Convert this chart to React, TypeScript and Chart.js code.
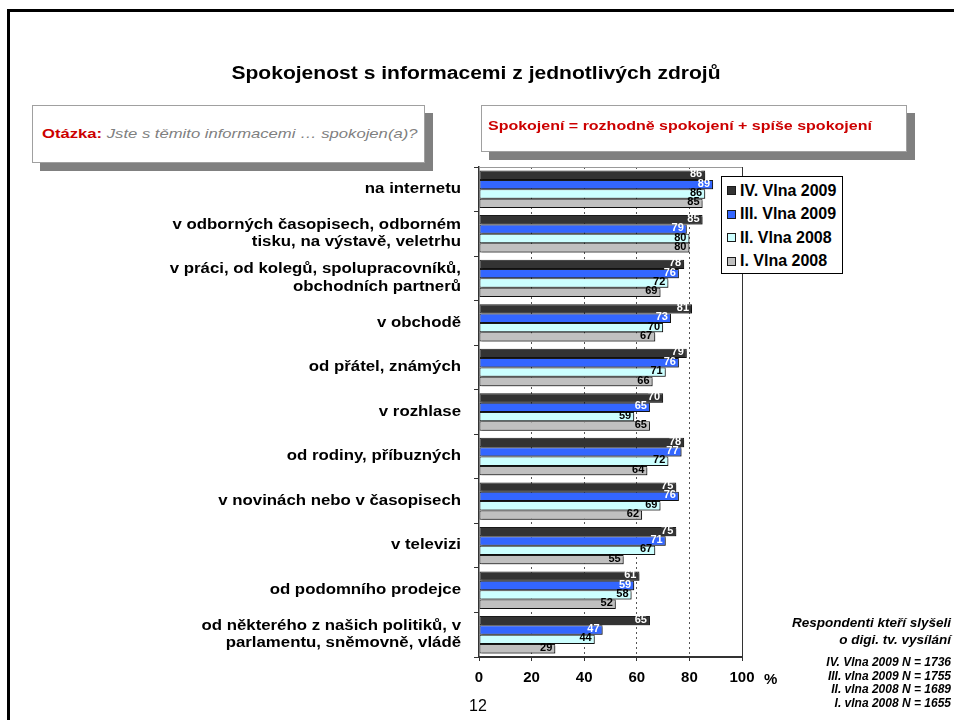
import React, { useEffect, useRef } from "react";
import { Chart, registerables } from "chart.js";
Chart.register(...registerables);

const categories: (string | string[])[] = [
  "na internetu",
  ["v odborných časopisech, odborném", "tisku, na výstavě, veletrhu"],
  ["v práci, od kolegů, spolupracovníků,", "obchodních partnerů"],
  "v obchodě",
  "od přátel, známých",
  "v rozhlase",
  "od rodiny, příbuzných",
  "v novinách nebo v časopisech",
  "v televizi",
  "od podomního prodejce",
  ["od některého z našich politiků, v", "parlamentu, sněmovně, vládě"],
];
const seriesNames = ["IV. Vlna 2009", "III. Vlna 2009", "II. Vlna 2008", "I. Vlna 2008"];
const wave4 = [86, 85, 78, 81, 79, 70, 78, 75, 75, 61, 65];
const wave3 = [89, 79, 76, 73, 76, 65, 77, 76, 71, 59, 47];
const wave2 = [86, 80, 72, 70, 71, 59, 72, 69, 67, 58, 44];
const wave1 = [85, 80, 69, 67, 66, 65, 64, 62, 55, 52, 29];
const xTicks = [0, 20, 40, 60, 80, 100];
const respondentNote = ["Respondenti kteří slyšeli", "o digi. tv. vysílání"];
const sampleSizes = [
  "IV. Vlna 2009 N = 1736",
  "III. vlna 2009 N = 1755",
  "II. vlna 2008 N = 1689",
  "I. vlna 2008 N = 1655",
];

const seriesValues = [wave4, wave3, wave2, wave1];
const fills = ["#333333", "#3366ff", "#ccffff", "#c0c0c0"];
const labelColors = ["#ffffff", "#ffffff", "#000000", "#000000"];
const FONT = "'Liberation Sans', Arial, sans-serif";

const shadowPlugin = {
  id: "barShadow",
  beforeDatasetsDraw(chart: any) {
    const ctx = chart.ctx;
    ctx.save();
    ctx.shadowColor = "rgba(0,0,0,0.35)";
    ctx.shadowOffsetX = 2;
    ctx.shadowOffsetY = 2;
    ctx.shadowBlur = 0;
  },
  afterDatasetsDraw(chart: any) {
    chart.ctx.restore();
  },
};

const valueLabelPlugin = {
  id: "valueLabels",
  afterDatasetsDraw(chart: any) {
    const ctx = chart.ctx;
    ctx.save();
    ctx.font = `bold 11px ${FONT}`;
    ctx.textAlign = "right";
    ctx.textBaseline = "middle";
    chart.data.datasets.forEach((ds: any, di: number) => {
      const meta = chart.getDatasetMeta(di);
      meta.data.forEach((bar: any, i: number) => {
        ctx.fillStyle = labelColors[di];
        ctx.fillText(String(ds.data[i]), bar.x - 3, bar.y - 1);
      });
    });
    ctx.restore();
  },
};

// category labels drawn with the slight horizontal stretch seen in the original slide
const categoryLabelPlugin = {
  id: "categoryLabels",
  afterDraw(chart: any) {
    const ctx = chart.ctx;
    const yScale = chart.scales.y;
    const rightEdge = chart.chartArea.left - 18;
    const lh = 17.5;
    ctx.save();
    ctx.font = `bold 14px ${FONT}`;
    ctx.fillStyle = "#000";
    ctx.textAlign = "right";
    ctx.textBaseline = "middle";
    (chart.data.labels as any[]).forEach((lab: any, i: number) => {
      const lines: string[] = Array.isArray(lab) ? lab : [lab];
      const yc = yScale.getPixelForValue(i);
      lines.forEach((ln, k) => {
        const y = yc - ((lines.length - 1) * lh) / 2 + k * lh;
        ctx.save();
        ctx.translate(rightEdge, y);
        ctx.scale(1.2, 1);
        ctx.fillText(ln, 0, 0);
        ctx.restore();
      });
    });
    ctx.restore();
  },
};

const framePlugin = {
  id: "plotFrame",
  afterDraw(chart: any) {
    const { left, right, top, bottom } = chart.chartArea;
    const ctx = chart.ctx;
    ctx.save();
    ctx.strokeStyle = "#999999";
    ctx.lineWidth = 1;
    ctx.beginPath();
    ctx.moveTo(left, top + 0.5);
    ctx.lineTo(right, top + 0.5);
    ctx.stroke();
    ctx.strokeStyle = "#333333";
    ctx.beginPath();
    ctx.moveTo(right + 0.5, top);
    ctx.lineTo(right + 0.5, bottom);
    ctx.stroke();
    ctx.restore();
  },
};

export default function App() {
  const ref = useRef<HTMLCanvasElement | null>(null);
  useEffect(() => {
    document.body.style.margin = "0";
    document.body.style.overflow = "hidden";
    if (!ref.current) return;
    const chart = new Chart(ref.current, {
      type: "bar",
      data: {
        labels: categories,
        datasets: seriesValues.map((vals, i) => ({
          label: seriesNames[i],
          data: vals,
          backgroundColor: fills[i],
          borderColor: "#1a1a1a",
          borderWidth: 1,
          borderSkipped: false,
          categoryPercentage: 0.84,
          barPercentage: 1,
        })),
      },
      options: {
        indexAxis: "y",
        responsive: false,
        animation: false,
        layout: { padding: { left: 0, right: 212, top: 167, bottom: 0 } },
        plugins: {
          legend: { display: false },
          title: { display: false },
          tooltip: { enabled: false },
        },
        scales: {
          x: {
            min: 0,
            max: 100,
            afterBuildTicks: (s: any) => {
              s.ticks = xTicks.map((v) => ({ value: v }));
            },
            afterFit: (s: any) => {
              s.height = 63;
            },
            grid: {
              color: (c: any) => (c.tick && (c.tick.value === 0 || c.tick.value === 100) ? "rgba(0,0,0,0)" : "#555555"),
              lineWidth: 1,
              drawTicks: true,
              tickLength: 4,
              tickColor: "#333333",
            },
            border: { display: true, color: "#333333", width: 2, dash: [2, 3] },
            ticks: {
              color: "#000000",
              font: { family: FONT, size: 15, weight: "bold" },
              padding: 8,
            },
          },
          y: {
            afterFit: (s: any) => {
              s.width = 479;
            },
            grid: {
              offset: true,
              drawOnChartArea: false,
              drawTicks: true,
              tickLength: 5,
              tickColor: "#333333",
            },
            border: { display: true, color: "#333333", width: 1.5 },
            ticks: { display: false },
          },
        },
      } as any,
      plugins: [shadowPlugin, valueLabelPlugin, categoryLabelPlugin, framePlugin],
    });
    return () => chart.destroy();
  }, []);

  const abs = (s: React.CSSProperties): React.CSSProperties => ({ position: "absolute", ...s });

  return (
    <div
      style={{
        position: "fixed",
        left: 0,
        top: 0,
        width: 954,
        height: 720,
        overflow: "hidden",
        background: "#ffffff",
        fontFamily: FONT,
      }}
    >
      <div style={abs({ left: 7, top: 9, width: 1000, height: 1000, border: "3px solid #000" })} />
      <canvas ref={ref} width={954} height={720} style={abs({ left: 0, top: 0, width: 954, height: 720 })} />
      <div
        style={abs({
          left: 0,
          width: 952,
          top: 62,
          textAlign: "center",
          fontWeight: "bold",
          fontSize: 18,
          lineHeight: "22px",
          color: "#000",
          transform: "scaleX(1.17)",
          transformOrigin: "476px 0",
          whiteSpace: "nowrap",
        })}
      >
        Spokojenost s informacemi z jednotlivých zdrojů
      </div>
      <div style={abs({ left: 40, top: 113, width: 393, height: 58, background: "#808080" })} />
      <div
        style={abs({
          left: 32,
          top: 105,
          width: 393,
          height: 58,
          boxSizing: "border-box",
          border: "1px solid #a0a0a0",
          background: "#fff",
        })}
      >
        <div
          style={abs({
            left: 9,
            top: 20,
            fontSize: 13,
            lineHeight: "16px",
            whiteSpace: "nowrap",
            transform: "scaleX(1.28)",
            transformOrigin: "0 0",
          })}
        >
          <span style={{ color: "#cc0000", fontWeight: "bold" }}>Otázka:</span>
          <span style={{ color: "#808080", fontStyle: "italic" }}> Jste s těmito informacemi … spokojen(a)?</span>
        </div>
      </div>
      <div style={abs({ left: 489, top: 113, width: 426, height: 47, background: "#808080" })} />
      <div
        style={abs({
          left: 481,
          top: 105,
          width: 426,
          height: 47,
          boxSizing: "border-box",
          border: "1px solid #a0a0a0",
          background: "#fff",
        })}
      >
        <div
          style={abs({
            left: 6,
            top: 12,
            fontSize: 13,
            lineHeight: "16px",
            color: "#cc0000",
            fontWeight: "bold",
            whiteSpace: "nowrap",
            transform: "scaleX(1.23)",
            transformOrigin: "0 0",
          })}
        >
          Spokojení = rozhodně spokojení + spíše spokojení
        </div>
      </div>
      <div
        style={abs({
          left: 721,
          top: 176,
          width: 122,
          height: 98,
          boxSizing: "border-box",
          border: "1px solid #000",
          background: "#fff",
        })}
      >
        {seriesNames.map((n, i) => (
          <div
            key={n}
            style={abs({ left: 5, top: 3.5 + i * 23.5, height: 20, display: "flex", alignItems: "center" })}
          >
            <span
              style={{
                display: "inline-block",
                width: 9,
                height: 9,
                boxSizing: "border-box",
                border: "1px solid #1a1a1a",
                background: fills[i],
                marginRight: 4,
              }}
            />
            <span style={{ fontWeight: "bold", fontSize: 16, whiteSpace: "nowrap" }}>{n}</span>
          </div>
        ))}
      </div>
      <div style={abs({ left: 764, top: 670, fontWeight: "bold", fontSize: 15, lineHeight: "18px" })}>%</div>
      <div style={abs({ left: 440, width: 76, top: 696, textAlign: "center", fontSize: 16, lineHeight: "19px" })}>12</div>
      <div
        style={abs({
          right: 3,
          top: 614,
          textAlign: "right",
          fontWeight: "bold",
          fontStyle: "italic",
          fontSize: 13.5,
          lineHeight: "17px",
          whiteSpace: "nowrap",
        })}
      >
        {respondentNote.map((t) => (
          <div key={t}>{t}</div>
        ))}
      </div>
      <div
        style={abs({
          right: 3,
          top: 656,
          textAlign: "right",
          fontWeight: "bold",
          fontStyle: "italic",
          fontSize: 12,
          lineHeight: "13.7px",
          whiteSpace: "nowrap",
        })}
      >
        {sampleSizes.map((t) => (
          <div key={t}>{t}</div>
        ))}
      </div>
    </div>
  );
}
